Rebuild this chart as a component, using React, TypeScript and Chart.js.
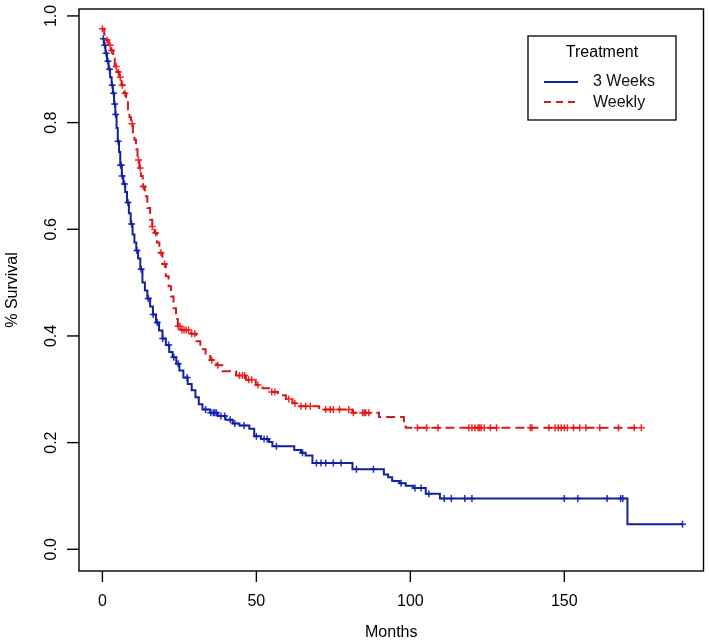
import { useEffect, useRef } from 'react';
import { Chart, registerables } from 'chart.js';

Chart.register(...registerables);

// Kaplan-Meier step points (time in months, survival after the drop)
const threeWeeksTimes = [
  0, 0.5, 1.0, 1.5, 2.0, 2.5, 3.0, 3.4, 3.8, 4.2, 4.6, 5.0, 5.4, 5.8, 6.3, 6.8, 7.4, 8.0, 8.6, 9.2,
  9.8, 10.4, 11.0, 11.6, 12.3, 13.0, 13.8, 14.6, 15.5, 16.4, 17.4, 18.4, 19.5, 20.6, 21.7, 22.8,
  24.0, 25.0, 26.3, 27.7, 29.0, 30.2, 31.3, 32.5, 35.0, 37.5, 40.0, 42.3, 44.5, 47.7, 49.3, 51.5,
  54.1, 55.2, 62.3, 64.5, 66.0, 68.2, 81.2, 91.4, 92.8, 94.1, 96.5, 98.5, 101.0, 105.0, 109.6,
  170.5, 188.4,
];
const threeWeeksSurv = [
  0.957, 0.945, 0.93, 0.915, 0.9, 0.885, 0.87, 0.855, 0.835, 0.815, 0.79, 0.765, 0.745, 0.72, 0.7,
  0.685, 0.67, 0.65, 0.63, 0.61, 0.59, 0.575, 0.56, 0.545, 0.525, 0.5, 0.485, 0.47, 0.455, 0.44,
  0.425, 0.41, 0.395, 0.383, 0.37, 0.36, 0.348, 0.335, 0.322, 0.31, 0.298, 0.285, 0.272, 0.262,
  0.256, 0.25, 0.243, 0.236, 0.232, 0.226, 0.212, 0.207, 0.201, 0.193, 0.186, 0.181, 0.176, 0.162,
  0.15, 0.14, 0.135, 0.128, 0.124, 0.119, 0.115, 0.104, 0.095, 0.047, 0.047,
];
const threeWeeksCensored = [
  0.3, 0.8, 1.2, 1.8, 2.3, 3.2, 3.6, 4.0, 4.3, 5.1, 5.9, 6.1, 6.4, 7.2, 8.3, 9.5, 11.2, 12.6, 14.9,
  16.5, 17.8, 19.6, 21.5, 23.2, 24.6, 27.5, 33.5, 35.2, 36.0, 36.5, 37.0, 38.5, 39.7, 41.5, 43.0,
  46.0, 50.0, 52.5, 53.5, 56.5, 65.0, 69.5, 71.0, 72.5, 75.0, 77.5, 82.5, 88.0, 97.0, 101.5,
  103.5, 106.0, 111.0, 113.3, 117.7, 120.0, 150.0, 154.4, 163.9, 168.3, 169.0, 188.4,
];

const weeklyTimes = [
  0, 0.6, 1.3, 2.0, 2.8, 3.5, 4.0, 4.8, 5.5, 6.2, 7.0, 7.7, 8.3, 8.8, 9.3, 9.9, 10.4, 10.9, 11.4,
  12.0, 12.5, 13.1, 13.8, 14.6, 15.5, 16.2, 16.9, 17.7, 18.5, 19.5, 20.6, 21.5, 22.3, 23.1, 23.9,
  24.5, 25.5, 28.8, 30.5, 31.8, 33.5, 35.0, 37.0, 39.0, 43.4, 46.6, 49.8, 52.0, 54.1, 57.0, 59.6,
  61.7, 63.9, 70.4, 81.2, 89.8, 97.9, 98.5, 175.0,
];
const weeklySurv = [
  0.976, 0.965, 0.955, 0.945, 0.935, 0.92, 0.905, 0.895, 0.885, 0.87, 0.855, 0.842, 0.825, 0.81,
  0.798, 0.782, 0.768, 0.75, 0.73, 0.715, 0.7, 0.68, 0.662, 0.64, 0.618, 0.605, 0.593, 0.575,
  0.556, 0.535, 0.512, 0.493, 0.474, 0.452, 0.432, 0.418, 0.411, 0.404, 0.39, 0.375, 0.365, 0.355,
  0.345, 0.334, 0.326, 0.318, 0.308, 0.302, 0.295, 0.289, 0.282, 0.274, 0.268, 0.262, 0.256,
  0.248, 0.236, 0.228, 0.228,
];
const weeklyCensored = [
  0.0, 1.5, 2.5, 3.0, 4.5, 5.2, 5.8, 6.5, 7.3, 9.6, 11.7, 12.3, 13.3, 16.2, 17.3, 19.0, 20.2, 24.6,
  25.2, 25.8, 26.5, 27.2, 28.0, 29.0, 30.0, 35.5, 37.5, 44.5, 45.5, 46.2, 47.5, 48.5, 50.5, 55.0,
  56.0, 60.5, 62.5, 64.5, 66.0, 67.5, 72.5, 74.0, 75.0, 77.0, 80.0, 81.5, 84.5, 85.0, 85.5, 86.5,
  102.3, 105.3, 109.0, 119.0, 120.0, 121.0, 122.0, 122.5, 123.0, 124.0, 126.0, 128.0, 139.0,
  139.5, 145.0, 147.0, 148.0, 149.0, 150.0, 151.0, 153.0, 155.0, 157.0, 161.5, 167.6, 172.7, 175.0,
];

const seriesNames = ['3 Weeks', 'Weekly'];
const xTicks = [0, 50, 100, 150];
const yTicks = [0, 0.2, 0.4, 0.6, 0.8, 1.0];
const yTickLabels = ['0.0', '0.2', '0.4', '0.6', '0.8', '1.0'];

const BLUE = '#13219a';
const BLUE_MARK = '#1a2ee0';
const RED = '#d21a1a';
const RED_MARK = '#ff1f1f';
const FONT = '"Liberation Sans", Arial, sans-serif';

function survAt(times: number[], surv: number[], t: number) {
  let s = surv[0];
  for (let i = 0; i < times.length; i++) {
    if (times[i] <= t) s = surv[i];
  }
  return s;
}

const frame = {
  id: 'rFrame',
  afterDraw(chart: Chart) {
    const { ctx, chartArea } = chart;
    const { left, right, top, bottom } = chartArea;
    const x = chart.scales.x;
    const y = chart.scales.y;
    ctx.save();
    ctx.strokeStyle = '#000';
    ctx.fillStyle = '#000';
    ctx.lineWidth = 1.4;
    ctx.strokeRect(left, top, right - left, bottom - top);

    ctx.font = `16px ${FONT}`;
    ctx.textAlign = 'center';
    ctx.textBaseline = 'middle';
    xTicks.forEach((v) => {
      const px = x.getPixelForValue(v);
      ctx.beginPath();
      ctx.moveTo(px, bottom);
      ctx.lineTo(px, bottom + 11);
      ctx.stroke();
      ctx.fillText(String(v), px, bottom + 31);
    });
    yTicks.forEach((v, i) => {
      const py = y.getPixelForValue(v);
      ctx.beginPath();
      ctx.moveTo(left - 12, py);
      ctx.lineTo(left, py);
      ctx.stroke();
      ctx.save();
      ctx.translate(left - 27, py);
      ctx.rotate(-Math.PI / 2);
      ctx.fillText(yTickLabels[i], 0, 0);
      ctx.restore();
    });

    ctx.fillText('Months', (left + right) / 2, bottom + 62);
    ctx.save();
    ctx.translate(13, (top + bottom) / 2);
    ctx.rotate(-Math.PI / 2);
    ctx.fillText('% Survival', 0, 0);
    ctx.restore();

    // legend box
    const lx = 528;
    const ly = 36;
    ctx.lineWidth = 1.3;
    ctx.strokeRect(lx, ly, 148, 84);
    ctx.fillText('Treatment', lx + 74, ly + 17);
    ctx.lineWidth = 1.8;
    ctx.strokeStyle = BLUE;
    ctx.beginPath();
    ctx.moveTo(lx + 16, ly + 46);
    ctx.lineTo(lx + 50, ly + 46);
    ctx.stroke();
    ctx.strokeStyle = RED;
    ctx.setLineDash([7, 5]);
    ctx.beginPath();
    ctx.moveTo(lx + 16, ly + 66);
    ctx.lineTo(lx + 52, ly + 66);
    ctx.stroke();
    ctx.setLineDash([]);
    ctx.textAlign = 'left';
    ctx.fillStyle = '#111';
    ctx.fillText(seriesNames[0], lx + 65, ly + 46);
    ctx.fillText(seriesNames[1], lx + 65, ly + 67);
    ctx.restore();
  },
};

export default function App() {
  const canvasRef = useRef<HTMLCanvasElement | null>(null);
  const chartRef = useRef<Chart | null>(null);

  useEffect(() => {
    if (!canvasRef.current) return;
    if (chartRef.current) chartRef.current.destroy();

    const blueLine = threeWeeksTimes.map((t, i) => ({ x: t, y: threeWeeksSurv[i] }));
    const redLine = weeklyTimes.map((t, i) => ({ x: t, y: weeklySurv[i] }));
    const blueMarks = threeWeeksCensored.map((t) => ({ x: t, y: survAt(threeWeeksTimes, threeWeeksSurv, t) }));
    const redMarks = weeklyCensored.map((t) => ({ x: t, y: survAt(weeklyTimes, weeklySurv, t) }));

    chartRef.current = new Chart(canvasRef.current, {
      type: 'line',
      data: {
        datasets: [
          {
            label: seriesNames[1],
            data: redLine,
            stepped: true,
            borderColor: RED,
            borderWidth: 2,
            borderDash: [9, 5],
            pointRadius: 0,
            fill: false,
          },
          {
            label: seriesNames[1] + ' censored',
            data: redMarks,
            showLine: false,
            pointStyle: 'cross',
            pointRadius: 3.5,
            borderColor: RED_MARK,
            borderWidth: 1.5,
          },
          {
            label: seriesNames[0],
            data: blueLine,
            stepped: true,
            borderColor: BLUE,
            borderWidth: 2,
            pointRadius: 0,
            fill: false,
          },
          {
            label: seriesNames[0] + ' censored',
            data: blueMarks,
            showLine: false,
            pointStyle: 'cross',
            pointRadius: 3.5,
            borderColor: BLUE_MARK,
            borderWidth: 1.5,
          },
        ],
      },
      options: {
        animation: false,
        responsive: true,
        maintainAspectRatio: false,
        layout: { padding: { left: 79, top: 9, right: 4, bottom: 71 } },
        scales: {
          x: { type: 'linear', display: false, min: -7.6, max: 195.2 },
          y: { type: 'linear', display: false, min: -0.0407, max: 1.013 },
        },
        plugins: {
          legend: { display: false },
          tooltip: { enabled: false },
        },
      },
      plugins: [frame],
    });

    return () => {
      if (chartRef.current) {
        chartRef.current.destroy();
        chartRef.current = null;
      }
    };
  }, []);

  return (
    <div style={{ position: 'fixed', left: 0, top: 0, width: 709, height: 642, background: '#fff' }}>
      <canvas ref={canvasRef} />
    </div>
  );
}
